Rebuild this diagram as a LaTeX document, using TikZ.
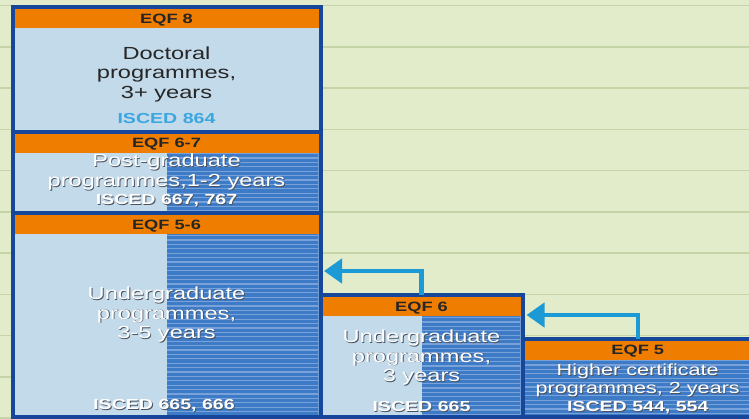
\documentclass[tikz,border=0pt]{standalone}
\usepackage{fontspec}
\usepackage{tikz}
\usetikzlibrary{positioning, arrows.meta}

\setmainfont{Liberation Sans}
\newfontfamily\eqffont[FakeStretch=1.35]{Liberation Sans}

\definecolor{paper}{HTML}{E2ECCB}
\definecolor{paperline}{HTML}{C5D4A6}
\definecolor{frame}{HTML}{17479A}
\definecolor{eqforange}{HTML}{EE7D00}
\definecolor{paleblue}{HTML}{C3DAEA}
\definecolor{midblue}{HTML}{3E7BC6}
\definecolor{stripe}{HTML}{78A2D9}
\definecolor{arrowblue}{HTML}{1C9AD6}
\definecolor{iscedblue}{HTML}{3BA6E0}
\definecolor{darktext}{HTML}{262626}
\definecolor{shadow}{HTML}{4A5260}

% white text with a dark drop shadow
\newcommand{\shadowed}[1]{\leavevmode\rlap{\kern0.9pt\raisebox{-0.9pt}{\textcolor{shadow}{#1}}}#1}

% striped blue fill: x1, y1, x2, y2
\newcommand{\striped}[4]{%
    \begin{scope}
        \clip (#1,#2) rectangle (#3,#4);
        \fill[midblue] (#1,#2) rectangle (#3,#4);
        \foreach \k in {0,...,45}
            \draw[stripe, line width=1.2pt] (#1,{#2+1.5+4.4*\k}) -- (#3,{#2+1.5+4.4*\k});
    \end{scope}}

\begin{document}
\begin{tikzpicture}[x=1pt, y=-1pt,
    box/.style={draw=frame, line width=4pt, fill=paleblue,
        inner sep=0pt, outer sep=0pt},
    header/.style={fill=eqforange, inner sep=0pt, outer sep=0pt,
        minimum height=19pt, text height=9.7pt, text depth=0pt, text=darktext,
        font=\eqffont\fontsize{13.5}{15}\selectfont\bfseries},
    course/.style={align=center, text=white,
        font=\eqffont\fontsize{17.5}{19.5}\selectfont},
    isced/.style={text=white,
        font=\eqffont\fontsize{14.5}{16}\selectfont\bfseries},
    flow/.style={draw=arrowblue, line width=4.5pt,
        -{Triangle[length=18pt,width=24pt]}}]

    % paper
    \path[use as bounding box, clip] (0,0) rectangle (749,418);
    \fill[paper] (0,0) rectangle (749,418);
    \foreach \k in {0,...,10}
        \draw[paperline, line width=1.5pt] (0,{5.5+41.25*\k}) -- (749,{5.5+41.25*\k});

    % frames
    \node [box,
        minimum width=308pt,
        minimum height=124.5pt
        ] (box8) at (166.5,69.25) {};
    \node [box,
        minimum width=308pt,
        minimum height=81.5pt,
        below=0pt of box8
        ] (box67) {};
    \node [box,
        minimum width=308pt,
        minimum height=203.5pt,
        below=0pt of box67
        ] (box56) {};
    \node [box,
        minimum width=202pt,
        minimum height=121.5pt,
        anchor=south west
        ] (box6) at (box56.south east) {};
    \node [box,
        fill=midblue,
        minimum width=230.5pt,
        minimum height=78pt,
        anchor=south west
        ] (box5) at (box6.south east) {};

    % stripes
    \striped{167}{152}{318.5}{211}
    \striped{167}{234}{318.5}{414.5}
    \striped{422}{316}{520.5}{414.5}
    \striped{524.5}{359}{760}{414.5}

    % headers
    \node [header, minimum width=304pt, below=2pt of box8.north] (hdr8) {EQF 8};
    \node [header, minimum width=304pt, below=2pt of box67.north] (hdr67) {EQF 6-7};
    \node [header, minimum width=304pt, below=2pt of box56.north] (hdr56) {EQF 5-6};
    \node [header, minimum width=198pt, below=2pt of box6.north] (hdr6) {EQF 6};
    \node [header, minimum width=226.5pt, below=2pt of box5.north] (hdr5) {EQF 5};

    % programmes
    \node [course, text=darktext] (doc) at (166.5,74)
        {Doctoral\\programmes,\\3+ years};
    \node [isced, text=iscedblue] (isc8) at (166.5,119) {ISCED 864};

    \node [course] (post) at (166.5,172.5)
        {\shadowed{Post-graduate}\\\shadowed{programmes,1-2 years}};
    \node [isced] (isc67) at (166.5,201) {\shadowed{ISCED 667, 767}};

    \node [course] (ugrad56) at (166.5,315)
        {\shadowed{Undergraduate}\\\shadowed{programmes,}\\\shadowed{3-5 years}};
    \node [isced] (isc56) at (164,406) {\shadowed{ISCED 665, 666}};

    \node [course] (ugrad6) at (421.5,358)
        {\shadowed{Undergraduate}\\\shadowed{programmes,}\\\shadowed{3 years}};
    \node [isced] (isc6) at (421.5,407) {\shadowed{ISCED 665}};

    \node [course, font=\eqffont\fontsize{16}{18}\selectfont] (cert) at (637.75,381)
        {\shadowed{Higher certificate}\\\shadowed{programmes, 2 years}};
    \node [isced] (isc5) at (637.75,408) {\shadowed{ISCED 544, 554}};

    % progression
    \coordinate (turn6) at (421.5,271);
    \coordinate (turn5) at (637.75,315);
    \draw[flow, shorten >=3.5pt] (box6.north) -- (turn6) -- (turn6 -| box56.east);
    \draw[flow, shorten >=4pt] (box5.north) -- (turn5) -- (turn5 -| box6.east);
\end{tikzpicture}
\end{document}
